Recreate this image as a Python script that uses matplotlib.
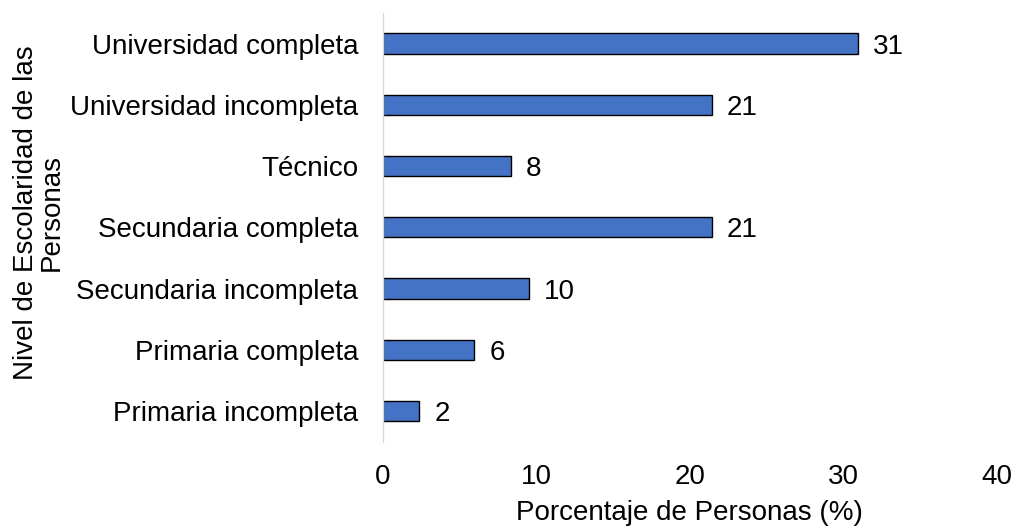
import matplotlib.pyplot as plt

plt.rcParams['font.family'] = ['Liberation Sans', 'DejaVu Sans']

# categories bottom -> top
niveles = ['Primaria incompleta', 'Primaria completa', 'Secundaria incompleta',
           'Secundaria completa', 'Técnico', 'Universidad incompleta',
           'Universidad completa']
porcentaje = [2.38, 5.95, 9.52, 21.43, 8.33, 21.43, 30.95]
xticks = [0, 10, 20, 30, 40]

fs = 20

fig = plt.figure(figsize=(10.15, 5.27), dpi=100)
ax = fig.add_axes([0.377, 0.162, 0.605, 0.8135])

bars = ax.barh(niveles, porcentaje, height=0.33, color='#4472C4',
               edgecolor='black', linewidth=1.0)
labels = ax.bar_label(bars, labels=['{:.0f}'.format(v) for v in porcentaje],
                      padding=11, fontsize=fs)
for t in labels:
    t.set_va('center_baseline')

ax.set_xlim(0, 40)
ax.set_ylim(-0.5, 6.5)
ax.set_xticks(xticks)

for s in ['top', 'right', 'bottom']:
    ax.spines[s].set_visible(False)
ax.spines['left'].set_color('#D9D9D9')
ax.spines['left'].set_linewidth(1.0)

ax.tick_params(axis='both', length=0, labelsize=fs)
ax.tick_params(axis='y', pad=17.5)
ax.tick_params(axis='x', pad=16)

ax.set_xlabel('Porcentaje de Personas (%)', fontsize=fs, labelpad=7)
ax.set_ylabel('Nivel de Escolaridad de las\nPersonas', fontsize=fs,
              linespacing=1.0, va='center')
ax.yaxis.set_label_coords(-0.56, 0.535)

fig.savefig('out.png', dpi=100)
